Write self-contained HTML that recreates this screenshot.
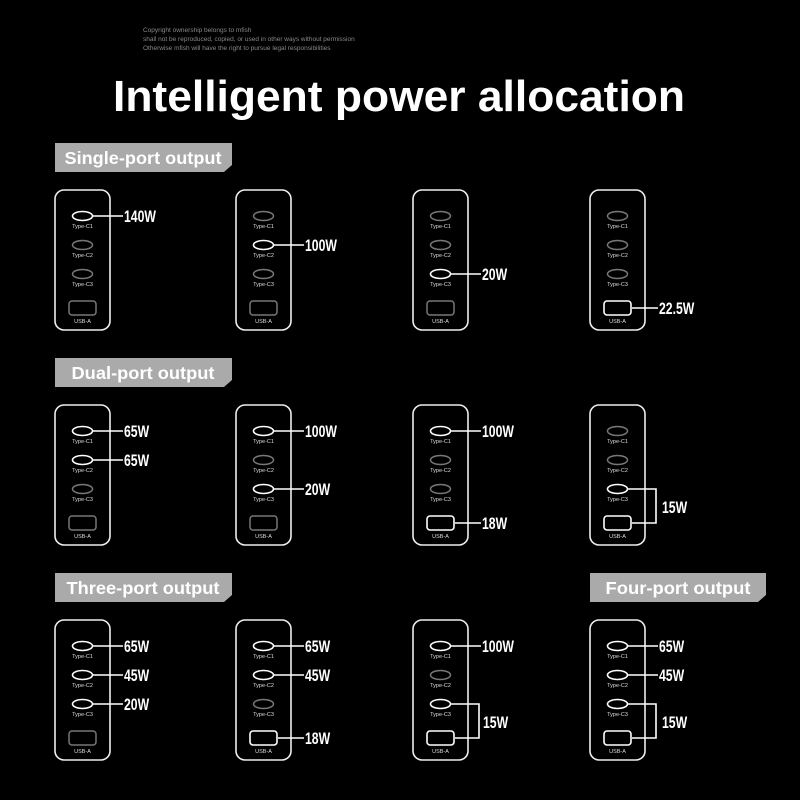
<!DOCTYPE html>
<html><head><style>
html,body{margin:0;padding:0;background:#000;width:800px;height:800px;overflow:hidden}
svg{display:block}
.t{font-family:"Liberation Sans",sans-serif;font-weight:bold;fill:#fff}
.w{font-family:"Liberation Sans",sans-serif;font-weight:bold;fill:#fff;font-size:17px;transform-box:fill-box;transform-origin:0 50%;transform:scaleX(0.72)}
.p{font-family:"Liberation Sans",sans-serif;fill:#ddd;font-size:5.5px}
.box{fill:none;stroke:#eee;stroke-width:1.6}
.on{fill:none;stroke:#fff;stroke-width:1.6}
.off{fill:none;stroke:#777;stroke-width:1.5}
.ln{fill:none;stroke:#fff;stroke-width:1.6}
</style></head><body>
<svg width="800" height="800" viewBox="0 0 800 800" xmlns="http://www.w3.org/2000/svg">
<defs>
<g id="dev">
<rect class="box" x="0" y="0" width="55" height="140" rx="9"/>
<text class="p" x="27.5" y="38" text-anchor="middle">Type-C1</text>
<text class="p" x="27.5" y="67" text-anchor="middle">Type-C2</text>
<text class="p" x="27.5" y="96" text-anchor="middle">Type-C3</text>
<text class="p" x="27.5" y="133" text-anchor="middle">USB-A</text>
</g>
<ellipse id="c" cx="27.5" cy="0" rx="10" ry="4.5"/>
<rect id="u" x="14" y="111" width="27" height="14" rx="3"/>
</defs>
<text x="143" y="32" font-family="Liberation Sans,sans-serif" font-size="6.5" fill="#888">Copyright ownership belongs to mfish</text>
<text x="143" y="41" font-family="Liberation Sans,sans-serif" font-size="6.5" fill="#888">shall not be reproduced, copied, or used in other ways without permission</text>
<text x="143" y="50" font-family="Liberation Sans,sans-serif" font-size="6.5" fill="#888">Otherwise mfish will have the right to pursue legal responsibilities</text>
<text class="t" x="399" y="111" font-size="44" text-anchor="middle" textLength="572" lengthAdjust="spacingAndGlyphs">Intelligent power allocation</text>

<g fill="#aaa">
<polygon points="55,143 232,143 232,165 224,172 55,172"/>
<polygon points="55,358 232,358 232,380 224,387 55,387"/>
<polygon points="55,573 232,573 232,595 224,602 55,602"/>
<polygon points="590,573 766,573 766,595 758,602 590,602"/>
</g>
<text class="t" x="143" y="164" font-size="17.5" text-anchor="middle" textLength="157" lengthAdjust="spacingAndGlyphs">Single-port output</text>
<text class="t" x="143" y="379" font-size="17.5" text-anchor="middle" textLength="143" lengthAdjust="spacingAndGlyphs">Dual-port output</text>
<text class="t" x="143" y="594" font-size="17.5" text-anchor="middle" textLength="153" lengthAdjust="spacingAndGlyphs">Three-port output</text>
<text class="t" x="678" y="594" font-size="17.5" text-anchor="middle" textLength="145" lengthAdjust="spacingAndGlyphs">Four-port output</text>

<!-- Row 1 -->
<g transform="translate(55,190)"><use href="#dev"/>
<use href="#c" y="26" class="on"/><use href="#c" y="55" class="off"/><use href="#c" y="84" class="off"/><use href="#u" class="off"/>
<path class="ln" d="M38,26H68"/><text class="w" x="69" y="32">140W</text></g>
<g transform="translate(236,190)"><use href="#dev"/>
<use href="#c" y="26" class="off"/><use href="#c" y="55" class="on"/><use href="#c" y="84" class="off"/><use href="#u" class="off"/>
<path class="ln" d="M38,55H68"/><text class="w" x="69" y="61">100W</text></g>
<g transform="translate(413,190)"><use href="#dev"/>
<use href="#c" y="26" class="off"/><use href="#c" y="55" class="off"/><use href="#c" y="84" class="on"/><use href="#u" class="off"/>
<path class="ln" d="M38,84H68"/><text class="w" x="69" y="90">20W</text></g>
<g transform="translate(590,190)"><use href="#dev"/>
<use href="#c" y="26" class="off"/><use href="#c" y="55" class="off"/><use href="#c" y="84" class="off"/><use href="#u" class="on"/>
<path class="ln" d="M42,118H68"/><text class="w" x="69" y="124">22.5W</text></g>

<!-- Row 2 -->
<g transform="translate(55,405)"><use href="#dev"/>
<use href="#c" y="26" class="on"/><use href="#c" y="55" class="on"/><use href="#c" y="84" class="off"/><use href="#u" class="off"/>
<path class="ln" d="M38,26H68M38,55H68"/><text class="w" x="69" y="32">65W</text><text class="w" x="69" y="61">65W</text></g>
<g transform="translate(236,405)"><use href="#dev"/>
<use href="#c" y="26" class="on"/><use href="#c" y="55" class="off"/><use href="#c" y="84" class="on"/><use href="#u" class="off"/>
<path class="ln" d="M38,26H68M38,84H68"/><text class="w" x="69" y="32">100W</text><text class="w" x="69" y="90">20W</text></g>
<g transform="translate(413,405)"><use href="#dev"/>
<use href="#c" y="26" class="on"/><use href="#c" y="55" class="off"/><use href="#c" y="84" class="off"/><use href="#u" class="on"/>
<path class="ln" d="M38,26H68M42,118H68"/><text class="w" x="69" y="32">100W</text><text class="w" x="69" y="124">18W</text></g>
<g transform="translate(590,405)"><use href="#dev"/>
<use href="#c" y="26" class="off"/><use href="#c" y="55" class="off"/><use href="#c" y="84" class="on"/><use href="#u" class="on"/>
<path class="ln" d="M38,84H66V118H42"/><text class="w" x="72" y="108">15W</text></g>

<!-- Row 3 -->
<g transform="translate(55,620)"><use href="#dev"/>
<use href="#c" y="26" class="on"/><use href="#c" y="55" class="on"/><use href="#c" y="84" class="on"/><use href="#u" class="off"/>
<path class="ln" d="M38,26H68M38,55H68M38,84H68"/><text class="w" x="69" y="32">65W</text><text class="w" x="69" y="61">45W</text><text class="w" x="69" y="90">20W</text></g>
<g transform="translate(236,620)"><use href="#dev"/>
<use href="#c" y="26" class="on"/><use href="#c" y="55" class="on"/><use href="#c" y="84" class="off"/><use href="#u" class="on"/>
<path class="ln" d="M38,26H68M38,55H68M42,118H68"/><text class="w" x="69" y="32">65W</text><text class="w" x="69" y="61">45W</text><text class="w" x="69" y="124">18W</text></g>
<g transform="translate(413,620)"><use href="#dev"/>
<use href="#c" y="26" class="on"/><use href="#c" y="55" class="off"/><use href="#c" y="84" class="on"/><use href="#u" class="on"/>
<path class="ln" d="M38,26H68M38,84H66V118H42"/><text class="w" x="69" y="32">100W</text><text class="w" x="70" y="108">15W</text></g>
<g transform="translate(590,620)"><use href="#dev"/>
<use href="#c" y="26" class="on"/><use href="#c" y="55" class="on"/><use href="#c" y="84" class="on"/><use href="#u" class="on"/>
<path class="ln" d="M38,26H68M38,55H68M38,84H66V118H42"/><text class="w" x="69" y="32">65W</text><text class="w" x="69" y="61">45W</text><text class="w" x="72" y="108">15W</text></g>
</svg>
</body></html>
